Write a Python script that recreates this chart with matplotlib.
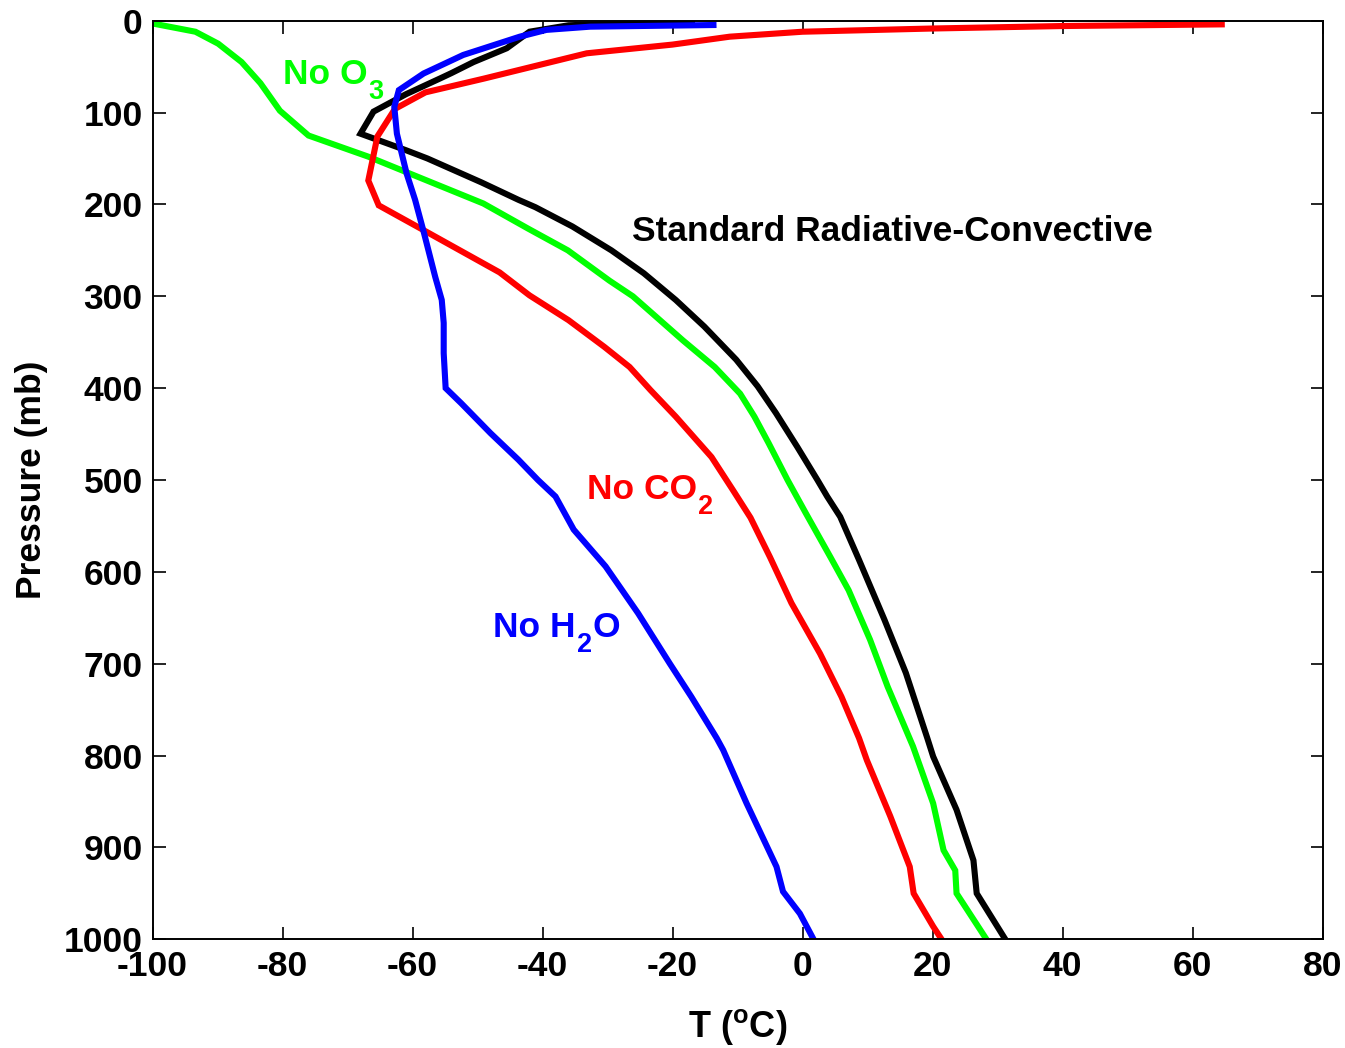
import matplotlib
matplotlib.use("Agg")
import matplotlib.pyplot as plt
from matplotlib.transforms import offset_copy

plt.rcParams['font.family'] = ['Liberation Sans', 'DejaVu Sans']
plt.rcParams['font.weight'] = 'bold'
plt.rcParams['mathtext.fontset'] = 'custom'
plt.rcParams['mathtext.rm'] = 'Liberation Sans:bold'
plt.rcParams['mathtext.it'] = 'Liberation Sans:bold'
plt.rcParams['mathtext.bf'] = 'Liberation Sans:bold'
plt.rcParams['mathtext.sf'] = 'Liberation Sans:bold'

# ---- data (pressure in mb, temperature in deg C) ----
std_p = [0.5, 1, 5, 12, 30, 45, 57, 63, 80, 99, 123, 141, 150, 176, 195, 203, 224, 250,
         275, 304, 333, 369, 398, 427, 464, 500, 518, 540, 587, 652, 710, 781, 801,
         859, 914, 950, 1000]
std_t = [-17, -20, -36, -42, -45.5, -50.6, -54, -55.8, -61, -66, -68, -61, -57.7, -49.4,
         -43.7, -41.1, -35.4, -29.4, -24.4, -19.5, -15.1, -10.2, -6.9, -4.1, -0.8, 2.3,
         3.8, 5.8, 8.7, 12.6, 15.9, 19.2, 20.1, 23.7, 26.3, 26.8, 31.2]

no3_p = [3, 12, 25, 45, 68, 98, 125, 148, 199, 226, 250, 283, 300, 348, 377, 406, 431,
         460, 500, 536, 584, 620, 674, 725, 790, 852, 903, 925, 950, 1000]
no3_t = [-100, -93.4, -89.9, -86.3, -83.4, -80.4, -76, -66.8, -49.1, -42.3, -36.1, -29.7,
         -26.1, -18.4, -13.5, -9.6, -7.4, -5.2, -2.3, 0.5, 4.3, 7.1, 10.4, 13.1, 17,
         20.1, 21.7, 23.5, 23.7, 28.3]

nco2_p = [4, 5.8, 8.5, 12, 17.4, 26, 35.5, 63, 78, 96, 126, 174, 201, 228, 274, 299,
          326, 355, 377, 402, 431, 475, 511, 541, 584, 634, 689, 736, 781, 805, 866,
          921, 950, 986, 1000]
nco2_t = [64.5, 40, 20, 0, -11.2, -20, -33.2, -49, -58, -62.7, -65.4, -66.8, -65.2,
          -58.3, -46.6, -42, -36, -30.5, -26.6, -23.4, -19.5, -14, -10.7, -8, -5, -1.7,
          2.7, 6, 8.7, 9.9, 13.5, 16.5, 17.1, 20.1, 21.4]

nh2o_p = [4.7, 6.5, 10, 17.4, 37.3, 57.5, 75.6, 94, 123, 166.5, 195, 232, 279, 304, 329,
          362, 400, 416.5, 449, 478, 500, 518, 554, 594, 645, 700, 736, 781, 794, 852,
          921, 948, 972, 1000]
nh2o_t = [-13.7, -32.7, -39.4, -43.5, -52.2, -58.3, -62.1, -62.8, -62.4, -60.9, -59.6,
          -58.2, -56.5, -55.5, -55.2, -55.2, -54.9, -52.5, -48, -43.7, -40.7, -38,
          -35.2, -30.3, -25.3, -20.4, -17.1, -13.2, -12.2, -8.6, -4, -3, -0.4, 1.7]

xticks = [-100, -80, -60, -40, -20, 0, 20, 40, 60, 80]
yticks = [0, 100, 200, 300, 400, 500, 600, 700, 800, 900, 1000]

fig = plt.figure(figsize=(13.45, 10.48), dpi=100)
ax = fig.add_axes([152.5 / 1345, 1 - 939.3 / 1048, 1170 / 1345, 918.6 / 1048])

lw = 4.4
ax.plot(std_t, std_p, color='#000000', lw=lw, solid_joinstyle='miter')
ax.plot(no3_t, no3_p, color='#00ff00', lw=lw, solid_joinstyle='miter')
ax.plot(nco2_t, nco2_p, color='#ff0000', lw=lw, solid_joinstyle='miter')
ax.plot(nh2o_t, nh2o_p, color='#0000ff', lw=lw, solid_joinstyle='miter')

ax.set_xlim(-100, 80)
ax.set_ylim(1000, 0)
ax.set_xticks(xticks)
ax.set_yticks(yticks)
ax.set_xticklabels([str(v) for v in xticks])
ax.set_yticklabels([str(v) for v in yticks])
ax.tick_params(axis='both', direction='in', length=9, width=1.2, labelsize=25.5,
               top=True, right=True)
ax.tick_params(axis='x', pad=8)
ax.tick_params(axis='y', pad=7)
for lab in ax.get_xticklabels() + ax.get_yticklabels():
    lab.set_fontweight('bold')
for s in ax.spines.values():
    s.set_linewidth(1.4)

ax.set_ylabel('Pressure (mb)', fontsize=25.5, fontweight='bold', va='center')
ax.yaxis.set_label_coords((32 - 152.5) / 1170, 0.5)
ax.set_xlabel(r'T ($^{\mathrm{o}}$C)', fontsize=26, fontweight='bold', va='center')
ax.xaxis.set_label_coords(0.5, (939.3 - 1027) / 918.6)

renderer = fig.canvas.get_renderer()
fs = 25.5
fs_sub = 19.5


def chem_label(x, y, parts, color):
    """Draw text made of (string, is_subscript) parts, left to right."""
    dx = 0.0
    for s, sub in parts:
        tr = offset_copy(ax.transData, fig=fig, x=dx, y=(-15 if sub else 0),
                         units='dots')
        t = ax.text(x, y, s, transform=tr, color=color, fontweight='bold',
                    fontsize=(fs_sub if sub else fs), ha='left', va='baseline')
        bb = t.get_window_extent(renderer)
        dx += bb.width + 1


chem_label(-79.9, 69.3, [('No O', False), ('3', True)], '#00ff00')
chem_label(-33.2, 520.7, [('No CO', False), ('2', True)], '#ff0000')
chem_label(-47.6, 670.6, [('No H', False), ('2', True), ('O', False)], '#0000ff')
ax.text(-26.2, 239.5, 'Standard Radiative-Convective', color='#000000', fontsize=fs,
        fontweight='bold', ha='left', va='baseline')

fig.savefig('out.png', dpi=100)
